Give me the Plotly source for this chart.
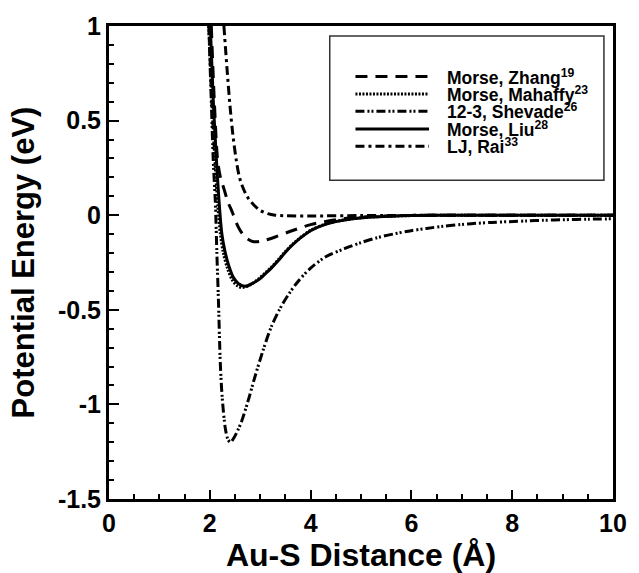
import plotly.graph_objects as go

# Au-S interaction potentials (distance in Å, energy in eV)
zhang_x = [2.03, 2.09, 2.16, 2.22, 2.28, 2.36, 2.44, 2.57, 2.70, 2.87, 3.05, 3.30, 3.60, 4.00, 4.30, 4.67, 5.00, 5.50, 6.00, 7.00, 10.0]
zhang_y = [1.00, 0.60, 0.28, 0.19, 0.14, 0.07, 0.02, -0.065, -0.115, -0.14, -0.135, -0.115, -0.085, -0.05, -0.033, -0.018, -0.01, -0.004, -0.001, 0.0, 0.0]

mahaffy_x = [1.98, 2.04, 2.10, 2.16, 2.21, 2.27, 2.35, 2.44, 2.54, 2.65, 2.80, 2.95, 3.10, 3.22, 3.36, 3.50, 3.65, 3.80, 4.00, 4.25, 4.50, 4.80, 5.20, 5.60, 6.00, 7.00, 8.00, 10.0]
mahaffy_y = [1.00, 0.60, 0.30, 0.05, -0.10, -0.20, -0.28, -0.34, -0.372, -0.382, -0.368, -0.34, -0.305, -0.275, -0.235, -0.192, -0.152, -0.118, -0.08, -0.051, -0.033, -0.02, -0.01, -0.005, -0.002, 0.0, 0.0, 0.0]

shevade_x = [1.98, 2.03, 2.07, 2.11, 2.14, 2.17, 2.21, 2.245, 2.31, 2.36, 2.41, 2.47, 2.55, 2.63, 2.75, 2.90, 3.05, 3.22, 3.40, 3.56, 3.75, 4.00, 4.30, 4.67, 5.00, 5.32, 5.65, 5.97, 6.30, 6.64, 7.00, 7.29, 7.60, 7.94, 8.30, 8.60, 9.00, 9.50, 10.0]
shevade_y = [1.00, 0.60, 0.28, 0.07, -0.20, -0.44, -0.79, -0.96, -1.13, -1.185, -1.20, -1.18, -1.14, -1.09, -0.99, -0.85, -0.72, -0.59, -0.49, -0.42, -0.35, -0.28, -0.22, -0.177, -0.145, -0.119, -0.099, -0.083, -0.07, -0.058, -0.049, -0.043, -0.038, -0.034, -0.03, -0.027, -0.024, -0.021, -0.019]

liu_x = [2.01, 2.07, 2.13, 2.19, 2.24, 2.30, 2.38, 2.47, 2.57, 2.70, 2.85, 3.00, 3.10, 3.22, 3.36, 3.50, 3.65, 3.80, 4.00, 4.25, 4.50, 4.80, 5.20, 5.60, 6.00, 7.00, 8.00, 10.0]
liu_y = [1.00, 0.60, 0.30, 0.05, -0.10, -0.19, -0.27, -0.33, -0.362, -0.376, -0.36, -0.335, -0.31, -0.28, -0.24, -0.196, -0.155, -0.12, -0.082, -0.052, -0.034, -0.02, -0.01, -0.005, -0.002, 0.0, 0.0, 0.0]

rai_x = [2.28, 2.34, 2.40, 2.46, 2.52, 2.58, 2.65, 2.75, 2.87, 3.00, 3.15, 3.30, 3.50, 4.00, 5.00, 6.00, 7.00, 10.0]
rai_y = [1.00, 0.78, 0.58, 0.42, 0.30, 0.21, 0.15, 0.095, 0.055, 0.025, 0.008, 0.0, -0.003, -0.004, -0.002, -0.001, 0.0, 0.0]

labels = ["Morse, Zhang<sup>19</sup>", "Morse, Mahaffy<sup>23</sup>", "12-3, Shevade<sup>26</sup>",
          "Morse, Liu<sup>28</sup>", "LJ, Rai<sup>33</sup>"]
dashes = ["12px,8px", "2px,1.5px", "9px,3px,2px,2px,2px,3px", "solid", "9px,4px,3px,4px"]

x_ticks = [0, 2, 4, 6, 8, 10]
x_ticktext = ["0", "2", "4", "6", "8", "10"]
y_ticks = [1, 0.5, 0, -0.5, -1, -1.5]
y_ticktext = ["1", "0.5", "0", "-0.5", "-1", "-1.5"]

FONT = "Liberation Sans, Arial, Helvetica, sans-serif"

series = [
    (zhang_x, zhang_y),
    (mahaffy_x, mahaffy_y),
    (shevade_x, shevade_y),
    (liu_x, liu_y),
    (rai_x, rai_y),
]
# draw order: solid Liu beneath the dotted Mahaffy curve
order = [3, 0, 2, 1, 4]

fig = go.Figure()
for i in order:
    xs, ys = series[i]
    fig.add_trace(go.Scatter(
        x=xs, y=ys, mode="lines", name=labels[i],
        line=dict(color="black", width=3, dash=dashes[i], shape="spline", smoothing=0.9),
        hoverinfo="skip",
    ))

# legend box drawn in paper coordinates
shapes = [dict(type="rect", xref="paper", yref="paper", x0=0.438, x1=0.982, y0=0.674, y1=0.979,
               line=dict(color="#333333", width=1.5), fillcolor="white", layer="below")]
annotations = []
row_y = [0.893, 0.856, 0.820, 0.782, 0.746]
for lab, dsh, ry in zip(labels, dashes, row_y):
    shapes.append(dict(type="line", xref="paper", yref="paper", x0=0.489, x1=0.635, y0=ry, y1=ry,
                       line=dict(color="black", width=3, dash=dsh)))
    annotations.append(dict(xref="paper", yref="paper", x=0.668, y=ry, xanchor="left", yanchor="middle",
                            text=lab, showarrow=False, borderpad=0,
                            font=dict(family=FONT, size=17.5, color="black", weight="bold")))

axis_common = dict(
    showline=True, linewidth=3, linecolor="black", mirror=True,
    showgrid=False, zeroline=False,
    ticks="inside", tickwidth=2, tickcolor="black",
    tickfont=dict(family=FONT, size=25, color="black", weight="bold"),
)

fig.update_layout(
    width=639, height=573,
    margin=dict(l=109, r=21, t=20, b=68),
    paper_bgcolor="white", plot_bgcolor="white",
    showlegend=False,
    shapes=shapes, annotations=annotations,
    xaxis=dict(range=[0, 10], tickvals=x_ticks, ticktext=x_ticktext, ticklen=9,
               minor=dict(ticks="inside", ticklen=5, tickwidth=1.5, tickcolor="black", dtick=0.5, tick0=0),
               title=dict(text="Au-S Distance (Å)", standoff=2,
                          font=dict(family=FONT, size=32, color="black", weight="bold")),
               **axis_common),
    yaxis=dict(range=[-1.5, 1], tickvals=y_ticks, ticktext=y_ticktext, ticklen=10,
               minor=dict(ticks="inside", ticklen=5, tickwidth=1.5, tickcolor="black", dtick=0.1, tick0=0),
               title=dict(text="Potential Energy (eV)", standoff=15,
                          font=dict(family=FONT, size=31, color="black", weight="bold")),
               **axis_common),
)

fig.write_html("out.html")
